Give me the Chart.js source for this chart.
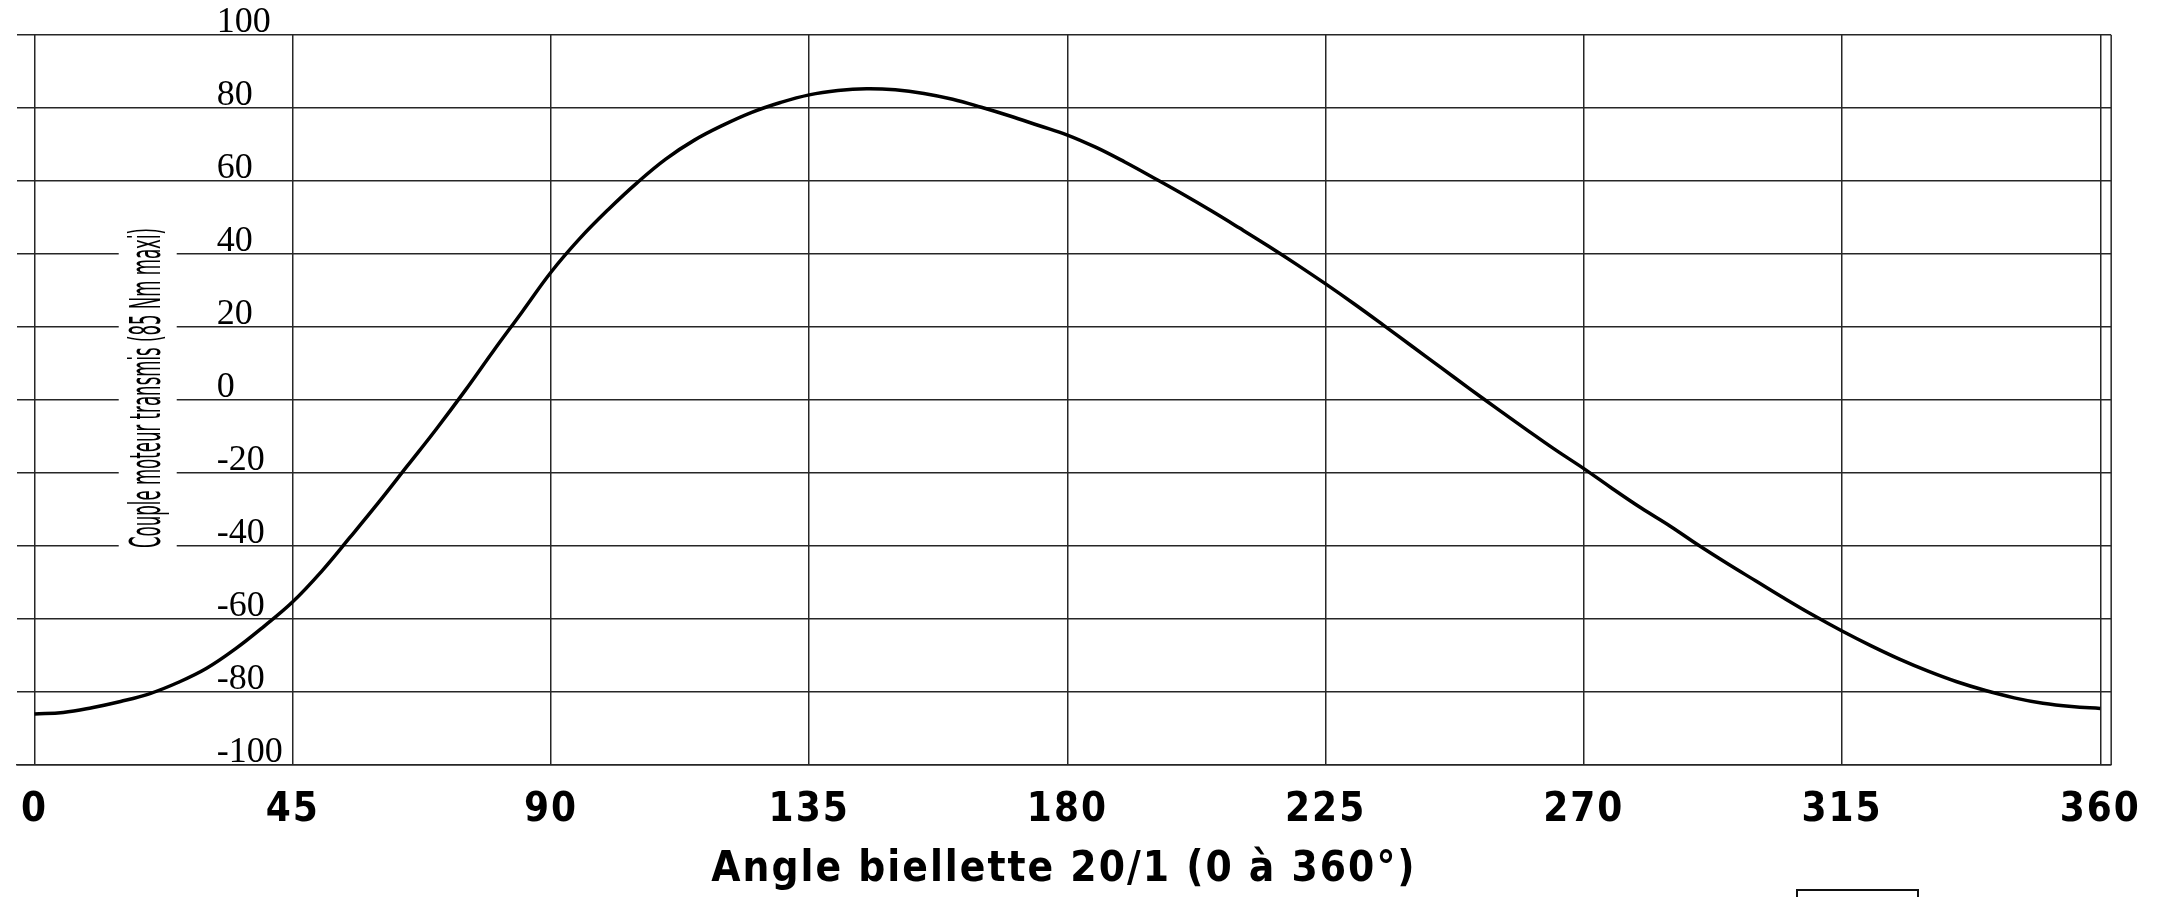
<!DOCTYPE html>
<html>
<head>
<meta charset="utf-8">
<script src="https://cdn.jsdelivr.net/npm/chart.js@4.4.1/dist/chart.umd.min.js"></script>
<style>
  html, body { margin: 0; padding: 0; background: #fff; }
  #wrap { width: 2160px; height: 897px; }
</style>
</head>
<body>
<div id="wrap"><canvas id="chartCouple"></canvas></div>
<script>
// angle de la biellette (degres) et couple transmis (Nm)
const angles = [
  0, 5, 10, 15, 20, 25, 30, 35, 40, 45, 50, 55, 60, 65, 70, 75, 80, 85,
  90, 95, 100, 105, 110, 115, 120, 125, 130, 135, 140, 145, 150, 155, 160, 165, 170, 175,
  180, 185, 190, 195, 200, 205, 210, 215, 220, 225, 230, 235, 240, 245, 250, 255, 260, 265,
  270, 275, 280, 285, 290, 295, 300, 305, 310, 315, 320, 325, 330, 335, 340, 345, 350, 355, 360
];
const couple = [
  -86, -85.6, -84.3, -82.6, -80.5, -77.4, -73.5, -68.2, -62, -55.3, -47, -37.6, -28, -18, -8, 2.5, 13.5, 24.2,
  35, 44.2, 52.2, 59.5, 66, 71.2, 75.3, 78.8, 81.5, 83.6, 84.8, 85.3, 85, 84, 82.4, 80.2, 77.8, 75.2,
  72.6, 69.2, 65.2, 60.9, 56.5, 51.9, 47.1, 42.2, 37.1, 31.8, 26.3, 20.6, 14.8, 9, 3.2, -2.5, -8.1, -13.6,
  -18.8, -24.3, -29.6, -34.5, -39.8, -44.8, -49.6, -54.4, -59, -63.3, -67.3, -71, -74.3, -77.2, -79.6, -81.6, -83.1, -84, -84.5
];
const xTicks = [0, 45, 90, 135, 180, 225, 270, 315, 360];
const yTicks = [-100, -80, -60, -40, -20, 0, 20, 40, 60, 80, 100];
const xTitle = 'Angle biellette 20/1 (0 à 360°)';
const yTitle = 'Couple moteur transmis (85 Nm maxi)';

const narrow = '"DejaVu Sans Condensed", "Liberation Sans Narrow", sans-serif';
const gridColor = '#262626';

const cadre = {
  id: 'cadre',
  afterLayout(chart) {
    // lettres espacees sur l'axe des angles
    const s = chart.scales.x;
    if (s._espace) return;
    s._espace = true;
    const dl = s.drawLabels, dt = s.drawTitle;
    s.drawLabels = function (a) { this.ctx.save(); this.ctx.letterSpacing = '2px'; dl.call(this, a); this.ctx.restore(); };
    s.drawTitle = function () { this.ctx.save(); this.ctx.letterSpacing = '2px'; dt.call(this); this.ctx.restore(); };
  },
  beforeDatasetsDraw(chart) {
    const { ctx, chartArea: a } = chart;
    ctx.save();
    // cadre droit
    ctx.strokeStyle = gridColor;
    ctx.lineWidth = 1.5;
    ctx.beginPath();
    ctx.moveTo(a.right, a.top);
    ctx.lineTo(a.right, a.bottom);
    ctx.stroke();
    // titre vertical dans le graphe
    const cx = a.left + 132, cy = (a.top + a.bottom) / 2 - 12;
    ctx.fillStyle = '#fff';
    ctx.fillRect(cx - 30, cy - 165, 58, 330);
    ctx.translate(cx, cy);
    ctx.rotate(-Math.PI / 2);
    ctx.font = '42px ' + narrow;
    const w = ctx.measureText(yTitle).width;
    ctx.scale(320 / w, 1);
    ctx.fillStyle = '#000';
    ctx.textAlign = 'center';
    ctx.textBaseline = 'middle';
    ctx.fillText(yTitle, 0, 0);
    ctx.restore();
  },
  afterDraw(chart) {
    // cadre de legende (coupe en bas)
    const { ctx } = chart;
    ctx.save();
    ctx.strokeStyle = '#111';
    ctx.lineWidth = 2;
    ctx.strokeRect(1797, 890, 121, 20);
    ctx.restore();
  }
};

new Chart(document.getElementById('chartCouple'), {
  type: 'line',
  data: {
    datasets: [{
      label: 'Couple',
      data: angles.map((a, i) => ({ x: a, y: couple[i] })),
      borderColor: '#000',
      borderWidth: 3.5,
      pointRadius: 0,
      tension: 0.4,
      fill: false
    }]
  },
  options: {
    responsive: true,
    maintainAspectRatio: false,
    animation: false,
    layout: { padding: { left: 10, right: 38, top: 35, bottom: 0 } },
    plugins: {
      legend: { display: false },
      tooltip: { enabled: false }
    },
    scales: {
      x: {
        type: 'linear',
        min: -3.1,
        max: 361.9,
        afterBuildTicks: (s) => { s.ticks = xTicks.map(v => ({ value: v })); },
        afterFit: (s) => { s.height = 132; },
        grid: { color: gridColor, lineWidth: 1.5, drawTicks: false },
        border: { display: true, color: gridColor, width: 1.5 },
        ticks: {
          autoSkip: false,
          maxRotation: 0,
          padding: 22,
          color: '#000',
          font: { family: narrow, size: 40, weight: 'bold' }
        },
        title: {
          display: true,
          text: xTitle,
          color: '#000',
          font: { family: narrow, size: 42, weight: 'bold' },
          padding: { top: 0, bottom: 2 }
        }
      },
      y: {
        min: -100,
        max: 100,
        afterBuildTicks: (s) => { s.ticks = yTicks.map(v => ({ value: v })); },
        afterFit: (s) => { s.width = 0; s.paddingTop = 0; s.paddingBottom = 0; },
        grid: { color: gridColor, lineWidth: 1.5, drawTicks: false },
        border: { display: false },
        ticks: {
          mirror: true,
          padding: 200,
          labelOffset: -12,
          color: '#000',
          font: { family: '"Liberation Serif", "Times New Roman", serif', size: 36 }
        }
      }
    }
  },
  plugins: [cadre]
});
</script>
</body>
</html>
